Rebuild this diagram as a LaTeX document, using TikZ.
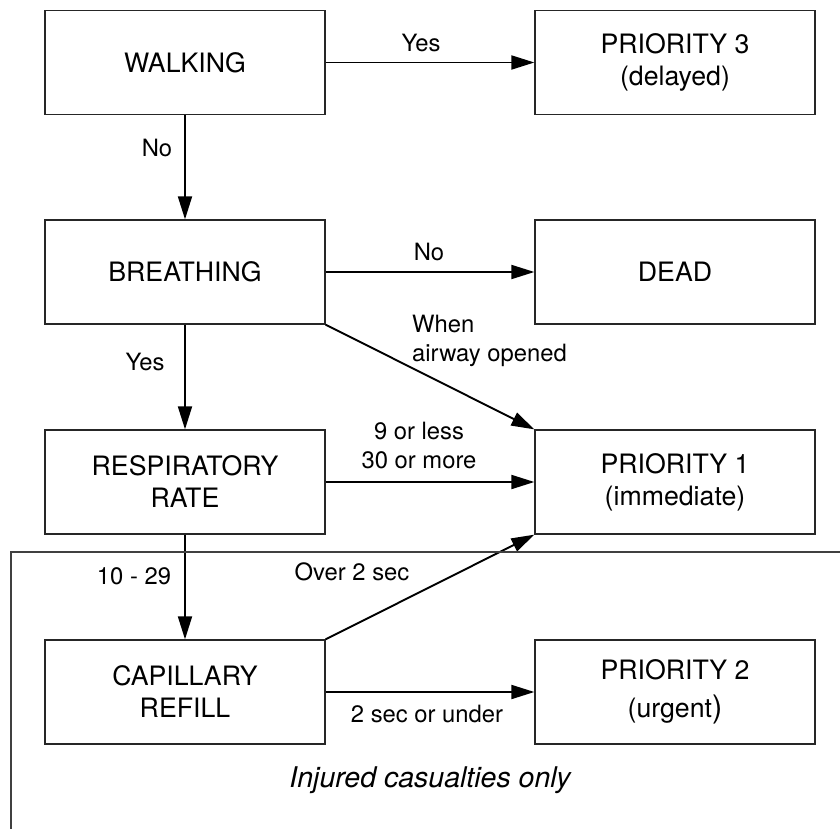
\documentclass[tikz,border=0pt]{standalone}
\usepackage{fontspec}
\setmainfont{TeX Gyre Heros}
\usetikzlibrary{arrows.meta}
\begin{document}
\begin{tikzpicture}[x=1pt,y=-1pt,
  box/.style={draw=black!85, line width=1.3pt, rectangle, minimum width=280pt,
    minimum height=104pt, inner sep=0pt, align=center,
    font=\fontsize{26.7}{32}\selectfont},
  arr/.style={line width=1.9pt, -{Triangle[length=23pt,width=14pt]}},
  lbl/.style={inner sep=0pt, anchor=base, align=center,
    font=\fontsize{23.8}{29}\selectfont},
  frame/.style={draw=black!75, line width=1.3pt}]
\useasboundingbox (0,0) rectangle (840,829);

% decision boxes (left column) and outcome boxes (right column)
\node[box] (walk)   at (185,62.5) {WALKING};
\node[box] (breath) at (185,272)  {BREATHING};
\node[box] (resp)   at (185,482)  {RESPIRATORY\\RATE};
\node[box] (cap)    at (185,692)  {CAPILLARY\\REFILL};
\node[box] (p3)     at (675,62.5) {PRIORITY 3\\(delayed)};
\node[box] (dead)   at (675,272)  {DEAD};
\node[box] (p1)     at (675,482)  {PRIORITY 1\\(immediate)};
\node[box] (p2)     at (675,692)  {PRIORITY 2\\[6pt](urgent{\fontsize{31}{32}\selectfont)}};

% connectors
\draw[arr] (walk.east) -- (p3.west);
\draw[arr] (walk.south) -- (breath.north);
\draw[arr] (breath.east) -- (dead.west);
\draw[arr] (breath.south) -- (resp.north);
\draw[arr] (breath.south east) -- (p1.north west);
\draw[arr] (resp.east) -- (p1.west);
\draw[arr] (resp.south) -- (cap.north);
\draw[arr] (cap.north east) -- (p1.south west);
\draw[arr] (cap.east) -- (p2.west);

% connector labels (base anchor = baseline of the last line)
\node[lbl] (lyes1)  at (421,52)  {Yes};
\node[lbl] (lno1)   at (157,157) {No};
\node[lbl] (lno2)   at (429,260) {No};
\node[lbl] (lyes2)  at (145,370) {Yes};
\node[lbl, anchor=base west, align=left] (lwhen) at (412,361) {When\\airway opened};
\node[lbl] (lrate)  at (419,468) {9 or less\\30 or more};
\node[lbl] (lnorm)  at (134,584) {10 - 29};
\node[lbl] (lover)  at (352,580) {Over 2 sec};
\node[lbl] (lunder) at (427,722) {2 sec or under};

% bracket marking the injured-casualty stage
\coordinate (fb) at (11,829);
\coordinate (fc) at (11,552);
\coordinate (fr) at (840,552);
\draw[frame] (fb) -- (fc) -- (fr);
\node[inner sep=0pt, anchor=base, font=\fontsize{28.5}{34}\selectfont\itshape] (injured)
  at (430,787) {Injured casualties only};
\end{tikzpicture}
\end{document}
